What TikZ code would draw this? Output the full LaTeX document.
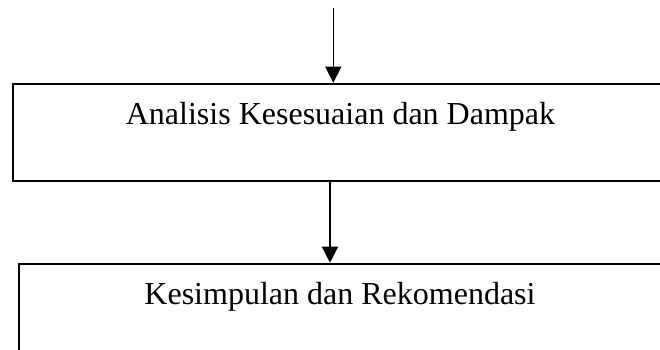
\documentclass[tikz,border=0pt]{standalone}
\usepackage{fontspec}
\setmainfont{Liberation Serif}
\usetikzlibrary{arrows.meta}
\begin{document}
\begin{tikzpicture}[x=1pt,y=1pt,
  box/.style={draw=black, line width=1.8pt, inner sep=0pt, anchor=north west},
  lbl/.style={font=\fontsize{32}{38}\selectfont, anchor=base, inner sep=0pt},
  arr/.style={line width=1.6pt, -{Triangle[width=16pt,length=16pt]}}]
\useasboundingbox (0,0) rectangle (660,349);
\clip (0,0) rectangle (660,349);
\node[box, minimum width=680pt, minimum height=97.3pt] (b1) at (12,266.3) {};
\node[box, minimum width=680pt, minimum height=120pt] (b2) at (18,86.3) {};
\node[lbl] (t1) at (340.5,225) {Analisis Kesesuaian dan Dampak};
\node[lbl] (t2) at (340,45) {Kesimpulan dan Rekomendasi};
\coordinate (top) at (333.3,341);
\draw[arr] (top) -- (top |- b1.north);
\coordinate (m) at (330,0);
\draw[arr] (m |- b1.south) -- (m |- b2.north);
\end{tikzpicture}
\end{document}
